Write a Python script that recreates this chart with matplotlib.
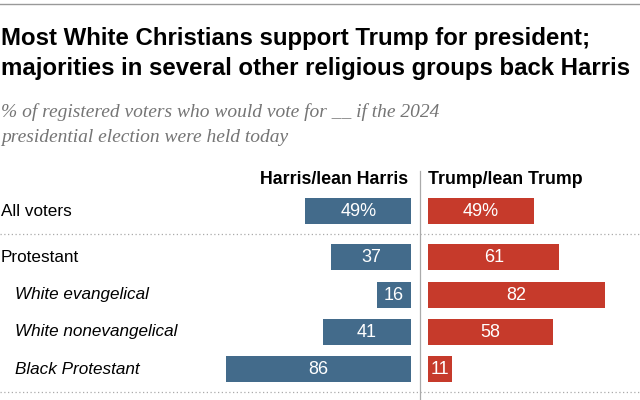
import matplotlib
matplotlib.use("Agg")
import matplotlib.pyplot as plt

groups = ["All voters", "Protestant", "White evangelical", "White nonevangelical", "Black Protestant"]
italic = [False, False, True, True, True]
harris = [49, 37, 16, 41, 86]
trump = [49, 61, 82, 58, 11]

BLUE = "#436b8b"
RED = "#c63a2b"
W, H = 640, 400
center = 419.5
scale = 2.155       # px per percentage point
gap = 8.5 / scale   # half gap between the two bar sets
row_y = [211, 257, 294.5, 331.5, 369]

plt.rcParams["font.family"] = ["Liberation Sans", "DejaVu Sans"]

fig = plt.figure(figsize=(W / 100, H / 100), dpi=100)
ax = fig.add_axes([0, 0, 1, 1])
ax.set_xlim(-center / scale, (W - center) / scale)
ax.set_ylim(H, 0)
ax.axis("off")

ax.barh(row_y, [-v for v in harris], left=-gap, height=26, color=BLUE)
ax.barh(row_y, trump, left=gap, height=26, color=RED)

for i, (y, h, t) in enumerate(zip(row_y, harris, trump)):
    suffix = "%" if i == 0 else ""
    ax.text(-gap - h / 2, y + 1, f"{h}{suffix}", color="white", ha="center", va="center",
            fontsize=13)
    ax.text(gap + t / 2, y + 1, f"{t}{suffix}", color="white", ha="center", va="center",
            fontsize=13)

# row labels
for name, it, y in zip(groups, italic, row_y):
    fig.text((15 if it else 1) / W, 1 - y / H, name, ha="left", va="center",
             fontsize=12.3, style="italic" if it else "normal")

# column headers
fig.text(408 / W, 1 - 179 / H, "Harris/lean Harris", ha="right", va="center",
         fontsize=12.8, fontweight="bold")
fig.text(428 / W, 1 - 179 / H, "Trump/lean Trump", ha="left", va="center",
         fontsize=12.8, fontweight="bold")

# center divider and dotted separators
fig.add_artist(plt.Line2D([center / W, center / W], [0, 1 - 171 / H], color="#aaaaaa", lw=0.9))
for yy in (234, 392):
    fig.add_artist(plt.Line2D([0, 1], [1 - yy / H, 1 - yy / H], color="#aaaaaa", lw=0.9,
                              linestyle=(0, (1, 2))))

# top rule
fig.add_artist(plt.Line2D([0, 1], [1 - 4 / H, 1 - 4 / H], color="#999999", lw=1))

fig.text(1 / W, 1 - 38 / H, "Most White Christians support Trump for president;",
         ha="left", va="center", fontsize=17.3, fontweight="bold")
fig.text(1 / W, 1 - 69 / H, "majorities in several other religious groups back Harris",
         ha="left", va="center", fontsize=17.3, fontweight="bold")

fig.text(1 / W, 1 - 112 / H, "% of registered voters who would vote for __ if the 2024",
         ha="left", va="center", fontsize=14, style="italic", color="#757575",
         family="Liberation Serif")
fig.text(1 / W, 1 - 138 / H, "presidential election were held today",
         ha="left", va="center", fontsize=14, style="italic", color="#757575",
         family="Liberation Serif")

fig.savefig("out.png", dpi=100)
